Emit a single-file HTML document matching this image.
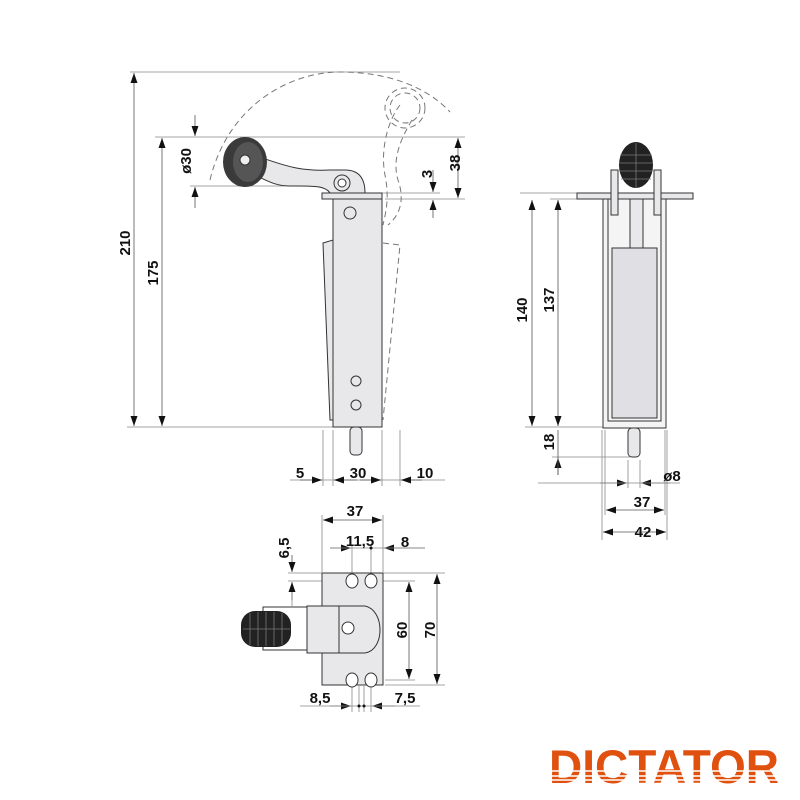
<!DOCTYPE html>
<html><head><meta charset="utf-8"><style>
html,body{margin:0;padding:0;background:#fff}
svg{display:block}
text{font-family:"Liberation Sans",Arial,sans-serif;font-weight:bold;font-size:15px;fill:#111}
</style></head><body>
<svg width="800" height="800" viewBox="0 0 800 800" xmlns="http://www.w3.org/2000/svg">
<defs>
<marker id="a" viewBox="0 0 10 10" refX="10" refY="5" markerWidth="10" markerHeight="10" orient="auto-start-reverse" markerUnits="userSpaceOnUse"><path d="M0,1.5 L10,5 L0,8.5z" fill="#111"/></marker>
</defs>
<g stroke="#888" stroke-width="0.8" fill="none">
<line x1="130" y1="72" x2="400" y2="72"/>
<line x1="127" y1="427" x2="335" y2="427"/>
<line x1="155" y1="137" x2="465" y2="137"/>
<line x1="190" y1="186" x2="345" y2="186"/>
<line x1="380" y1="193" x2="440" y2="193"/>
<line x1="385" y1="199" x2="465" y2="199"/>
<line x1="323" y1="430" x2="323" y2="486"/>
<line x1="333" y1="430" x2="333" y2="486"/>
<line x1="382" y1="430" x2="382" y2="486"/>
<line x1="400" y1="430" x2="400" y2="486"/>
<line x1="290" y1="480" x2="445" y2="480"/>
<line x1="520" y1="193" x2="580" y2="193"/>
<line x1="550" y1="199" x2="580" y2="199"/>
<line x1="525" y1="427" x2="605" y2="427"/>
<line x1="552" y1="457" x2="630" y2="457"/>
<line x1="602" y1="430" x2="602" y2="540"/>
<line x1="605" y1="430" x2="605" y2="515"/>
<line x1="628" y1="460" x2="628" y2="488"/>
<line x1="640" y1="460" x2="640" y2="488"/>
<line x1="665" y1="430" x2="665" y2="515"/>
<line x1="667" y1="430" x2="667" y2="540"/>
<line x1="322" y1="515" x2="322" y2="572"/>
<line x1="383" y1="515" x2="383" y2="572"/>
<line x1="352" y1="545" x2="352" y2="575"/>
<line x1="371" y1="545" x2="371" y2="575"/>
<line x1="288" y1="573" x2="445" y2="573"/>
<line x1="288" y1="581" x2="415" y2="581"/>
<line x1="385" y1="680" x2="415" y2="680"/>
<line x1="385" y1="685" x2="445" y2="685"/>
<line x1="352" y1="686" x2="352" y2="712"/>
<line x1="359" y1="686" x2="359" y2="712"/>
<line x1="364" y1="686" x2="364" y2="712"/>
<line x1="371" y1="686" x2="371" y2="712"/>
<line x1="292" y1="600" x2="292" y2="606"/>
</g>
<g stroke="#555" stroke-width="0.8" fill="none" marker-start="url(#a)" marker-end="url(#a)">
<line x1="134" y1="73" x2="134" y2="426"/>
<line x1="162" y1="138" x2="162" y2="426"/>
<line x1="458" y1="138" x2="458" y2="198"/>
<line x1="532" y1="200" x2="532" y2="426"/>
<line x1="558" y1="200" x2="558" y2="426"/>
<line x1="606" y1="510" x2="664" y2="510"/>
<line x1="603" y1="532" x2="666" y2="532"/>
<line x1="323" y1="520" x2="382" y2="520"/>
<line x1="409" y1="582" x2="409" y2="679"/>
<line x1="437" y1="574" x2="437" y2="684"/>
</g>
<g stroke="#555" stroke-width="0.8" fill="none" marker-end="url(#a)">
<line x1="195" y1="115" x2="195" y2="136"/>
<line x1="195" y1="208" x2="195" y2="187"/>
<line x1="433" y1="170" x2="433" y2="192"/>
<line x1="433" y1="218" x2="433" y2="200"/>
<line x1="300" y1="480" x2="322" y2="480"/>
<line x1="357" y1="480" x2="334" y2="480"/>
<line x1="360" y1="480" x2="381" y2="480"/>
<line x1="422" y1="480" x2="401" y2="480"/>
<line x1="558" y1="475" x2="558" y2="458"/>
<line x1="600" y1="483" x2="627" y2="483"/>
<line x1="670" y1="483" x2="641" y2="483"/>
<line x1="330" y1="548" x2="351" y2="548"/>
<line x1="425" y1="548" x2="384" y2="548"/>
<line x1="292" y1="555" x2="292" y2="572"/>
<line x1="292" y1="600" x2="292" y2="582"/>
<line x1="330" y1="706" x2="351" y2="706"/>
<line x1="395" y1="706" x2="372" y2="706"/>
</g>
<line x1="558" y1="430" x2="558" y2="475" stroke="#555" stroke-width="0.8"/>
<line x1="538" y1="483" x2="680" y2="483" stroke="#888" stroke-width="0.8"/>
<line x1="330" y1="548" x2="425" y2="548" stroke="#888" stroke-width="0.8"/>
<line x1="300" y1="706" x2="420" y2="706" stroke="#888" stroke-width="0.8"/>
<circle cx="359" cy="706" r="1.5" fill="#111"/><circle cx="364" cy="706" r="1.5" fill="#111"/>
<circle cx="371" cy="548" r="1.5" fill="#111"/>

<g stroke="#777" stroke-width="1" fill="none" stroke-dasharray="6,4">
<path d="M210,180 C228,105 290,72 340,72 C390,72 428,88 450,112"/>
<circle cx="405" cy="108" r="20"/>
<circle cx="405" cy="108" r="15"/>
<path d="M400,105 C388,120 380,150 385,175 C390,200 385,215 383,225"/>
<path d="M412,120 C400,140 392,160 398,180 C405,200 400,215 388,225"/>
<path d="M383,243 L400,245 L383,420"/>
</g>
<g stroke="#333" stroke-width="1" fill="#e8e8ea">
<path d="M323,243 L333,240 L333,420 L330,420 Z"/>
<rect x="333" y="199" width="49" height="228"/>
<rect x="322" y="193" width="60" height="6"/>
<rect x="350" y="427" width="12" height="28" rx="4"/>
<path d="M250,155 C275,160 290,172 330,170 L345,170 C360,170 365,180 365,193 L330,193 C325,185 310,186 290,186 C270,186 262,176 245,172 Z"/>
<circle cx="350" cy="213" r="6"/>
<circle cx="356" cy="381" r="5"/>
<circle cx="356" cy="405" r="5"/>
</g>
<ellipse cx="245" cy="162" rx="22" ry="25" fill="#3a3a3a"/>
<ellipse cx="248" cy="162" rx="15" ry="20" fill="#555"/>
<circle cx="245" cy="160" r="5" fill="#eee" stroke="#333"/>
<circle cx="342" cy="183" r="8" fill="#e8e8ea" stroke="#333"/>
<circle cx="342" cy="183" r="4" fill="#fff" stroke="#333"/>

<g stroke="#333" stroke-width="1" fill="#e8e8ea">
<rect x="577" y="193" width="116" height="6"/>
<rect x="603" y="199" width="63" height="229" fill="#f4f4f4"/>
<rect x="608" y="199" width="53" height="222" fill="none"/>
<rect x="630" y="199" width="13" height="50"/>
<rect x="612" y="248" width="45" height="170" fill="#e0e0e4"/>
<rect x="628" y="428" width="12" height="29" rx="4"/>
<rect x="611" y="170" width="7" height="45"/>
<rect x="654" y="170" width="7" height="45"/>
</g>
<ellipse cx="636" cy="165" rx="17" ry="23" fill="#222"/>
<g stroke="#777" stroke-width="0.8"><line x1="620" y1="155" x2="652" y2="155"/><line x1="619" y1="163" x2="653" y2="163"/><line x1="619" y1="171" x2="653" y2="171"/><line x1="621" y1="179" x2="651" y2="179"/><line x1="636" y1="143" x2="636" y2="188"/></g>

<g stroke="#333" stroke-width="1" fill="#e8e8ea">
<rect x="322" y="573" width="61" height="112"/>
<rect x="263" y="607" width="45" height="43" fill="none"/>
<rect x="307" y="606" width="32" height="47"/>
<path d="M339,606 L365,606 C385,610 385,650 365,653 L339,653 Z"/>
<circle cx="348" cy="628" r="6" fill="#fff"/>
</g>
<g stroke="#333" fill="#fff">
<ellipse cx="352" cy="581" rx="6" ry="7"/><ellipse cx="371" cy="581" rx="6" ry="7"/>
<ellipse cx="352" cy="680" rx="6" ry="7"/><ellipse cx="371" cy="680" rx="6" ry="7"/>
</g>
<rect x="241" y="611" width="50" height="36" rx="14" fill="#222"/>
<g stroke="#777" stroke-width="0.8"><line x1="250" y1="613" x2="250" y2="645"/><line x1="258" y1="612" x2="258" y2="646"/><line x1="266" y1="612" x2="266" y2="646"/><line x1="274" y1="612" x2="274" y2="646"/><line x1="282" y1="613" x2="282" y2="645"/><line x1="243" y1="629" x2="290" y2="629"/></g>

<text transform="translate(130,243) rotate(-90)" text-anchor="middle">210</text>
<text transform="translate(158,273) rotate(-90)" text-anchor="middle">175</text>
<text transform="translate(191,161) rotate(-90)" text-anchor="middle">ø30</text>
<text transform="translate(432,174) rotate(-90)" text-anchor="middle">3</text>
<text transform="translate(460,163) rotate(-90)" text-anchor="middle">38</text>
<text x="300" y="478" text-anchor="middle">5</text>
<text x="358" y="478" text-anchor="middle">30</text>
<text x="425" y="478" text-anchor="middle">10</text>
<text transform="translate(527,310) rotate(-90)" text-anchor="middle">140</text>
<text transform="translate(554,300) rotate(-90)" text-anchor="middle">137</text>
<text transform="translate(554,442) rotate(-90)" text-anchor="middle">18</text>
<text x="672" y="481" text-anchor="middle">ø8</text>
<text x="642" y="507" text-anchor="middle">37</text>
<text x="643" y="537" text-anchor="middle">42</text>
<text x="355" y="516" text-anchor="middle">37</text>
<text x="360" y="546" text-anchor="middle">11,5</text>
<text x="405" y="547" text-anchor="middle">8</text>
<text transform="translate(289,548) rotate(-90)" text-anchor="middle">6,5</text>
<text transform="translate(407,630) rotate(-90)" text-anchor="middle">60</text>
<text transform="translate(435,630) rotate(-90)" text-anchor="middle">70</text>
<text x="320" y="703" text-anchor="middle">8,5</text>
<text x="405" y="703" text-anchor="middle">7,5</text>

<text x="664" y="783" text-anchor="middle" style="font-size:47px;font-weight:900;fill:#e0500f" textLength="230" lengthAdjust="spacingAndGlyphs">DICTATOR</text>
<g stroke="#fff" stroke-width="1.5"><line x1="545" y1="771" x2="790" y2="771"/><line x1="545" y1="776" x2="790" y2="776"/><line x1="545" y1="780" x2="790" y2="780"/></g>
</svg>
</body></html>
